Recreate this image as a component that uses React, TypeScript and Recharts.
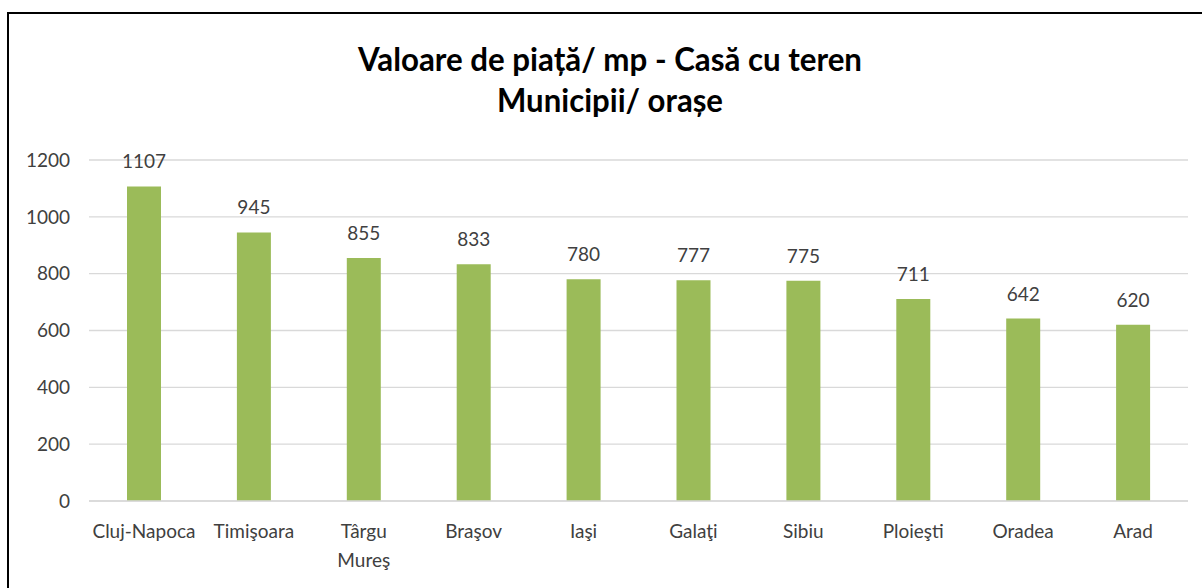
import React from "react";
import { BarChart, Bar, XAxis, YAxis, CartesianGrid, LabelList } from "recharts";

const cities = ["Cluj-Napoca", "Timişoara", "Târgu Mureş", "Braşov", "Iaşi", "Galaţi", "Sibiu", "Ploieşti", "Oradea", "Arad"];
const values = [1107, 945, 855, 833, 780, 777, 775, 711, 642, 620];
const yTicks = [0, 200, 400, 600, 800, 1000, 1200];
const titleLines = ["Valoare de piață/ mp - Casă cu teren", "Municipii/ orașe"];

const data = cities.map((city, i) => ({ city, value: values[i] }));

const FONT = "Lato, 'Open Sans', sans-serif";
const TEXT = "#404040";

// two-word names wrap onto a second line, like in the original
function CityTick(props: any) {
  const { x, y, payload } = props;
  const words = String(payload.value).split(" ");
  return (
    <text x={x} y={y + 29} textAnchor="middle" fontFamily={FONT} fontSize={19} fill={TEXT}>
      {words.map((w, i) => (
        <tspan key={i} x={x} dy={i === 0 ? 0 : 29}>
          {w}
        </tspan>
      ))}
    </text>
  );
}

export default function App() {
  return (
    <div style={{ position: "fixed", left: 0, top: 0, width: 1202, height: 588, background: "#fff", overflow: "hidden" }}>
      <div
        style={{
          position: "absolute",
          left: 7,
          top: 12,
          width: 1200,
          height: 580,
          borderTop: "2px solid #000",
          borderLeft: "2px solid #000",
        }}
      >
        <BarChart
          width={1193}
          height={574}
          data={data}
          margin={{ top: 146, right: 14, left: 20, bottom: 0 }}
          barSize={34}
        >
          <CartesianGrid vertical={false} stroke="#d9d9d9" strokeWidth={1.3} />
          <XAxis
            dataKey="city"
            axisLine={{ stroke: "#d9d9d9", strokeWidth: 1.3 }}
            tickLine={false}
            height={87}
            interval={0}
            tick={<CityTick />}
          />
          <YAxis
            domain={[0, 1200]}
            ticks={yTicks}
            axisLine={false}
            tickLine={false}
            width={60}
            tickMargin={13}
            tick={{ fontFamily: FONT, fontSize: 19, fill: TEXT }}
          />
          <Bar dataKey="value" fill="#9bbb59" isAnimationActive={false}>
            <LabelList dataKey="value" position="top" offset={18} fill={TEXT} fontFamily={FONT} fontSize={19} />
          </Bar>
        </BarChart>
      </div>
      <svg width={1202} height={140} style={{ position: "absolute", left: 0, top: 0 }}>
        <text x={610} y={71} textAnchor="middle" fontFamily={FONT} fontWeight={700} fontSize={32} fill="#000" textLength={504} lengthAdjust="spacingAndGlyphs">
          {titleLines[0]}
        </text>
        <text x={610} y={112} textAnchor="middle" fontFamily={FONT} fontWeight={700} fontSize={32} fill="#000" textLength={226} lengthAdjust="spacingAndGlyphs">
          {titleLines[1]}
        </text>
      </svg>
    </div>
  );
}
